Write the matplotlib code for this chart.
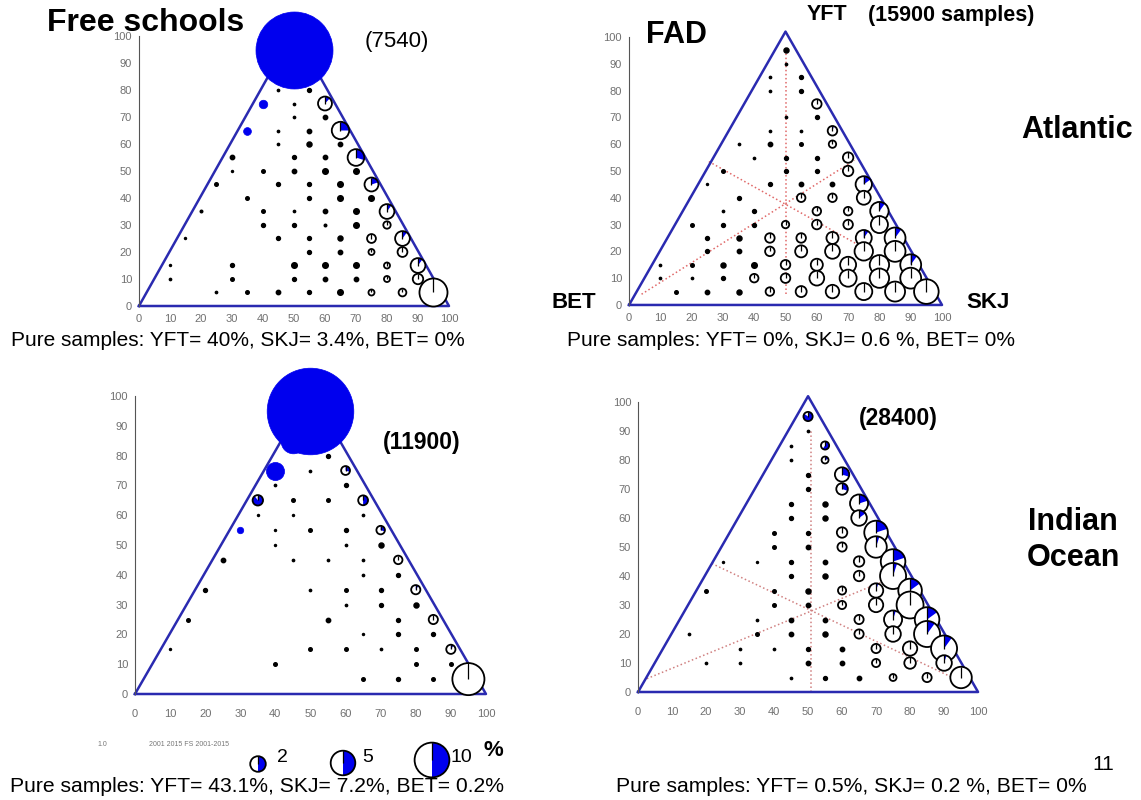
import numpy as np
import matplotlib.pyplot as plt
from matplotlib.path import Path

plt.rcParams['font.family'] = ['Liberation Sans', 'DejaVu Sans']

W, H = 1141, 800
BLUE = '#0000ee'
NAVY = '#2a2ab0'

# Each bubble: grid position (x, y), size as % of samples, blue share of the pie

# Atlantic, free schools (7540)
fs_atl_x = [50,
            45, 55,
            40, 50, 60,
            50, 60,
            35, 45, 55, 65,
            45, 55, 65,
            30, 50, 60, 70,
            30, 40, 50, 60, 70,
            25, 45, 55, 65, 75,
            35, 55, 65, 75,
            20, 40, 50, 60, 70, 80,
            40, 50, 60, 70, 80,
            15, 45, 55, 65, 75, 85,
            55, 65, 75, 85,
            10, 30, 50, 60, 70, 80, 90,
            10, 30, 50, 60, 70, 80, 90,
            25, 35, 45, 55, 65, 75, 85, 95]
fs_atl_y = [95,
            80, 80,
            75, 75, 75,
            70, 70,
            65, 65, 65, 65,
            60, 60, 60,
            55, 55, 55, 55,
            50, 50, 50, 50, 50,
            45, 45, 45, 45, 45,
            40, 40, 40, 40,
            35, 35, 35, 35, 35, 35,
            30, 30, 30, 30, 30,
            25, 25, 25, 25, 25, 25,
            20, 20, 20, 20,
            15, 15, 15, 15, 15, 15, 15,
            10, 10, 10, 10, 10, 10, 10,
            5, 5, 5, 5, 5, 5, 5, 5]
fs_atl_pct = [49,
              .04, .12,
              .6, .04, 1.6,
              .04, .15,
              .5, .04, .15, 2.5,
              .04, .2, .15,
              .15, .12, .15, 2.3,
              .03, .1, .15, .25, .25,
              .1, .12, .12, .25, 1.6,
              .1, .12, .25, .25,
              .05, .1, .04, .15, .25, 1.8,
              .12, .12, .05, .25, .45,
              .03, .12, .12, .2, .65, 1.8,
              .12, .15, .3, .8,
              .03, .12, .25, .25, .25, .3, 1.8,
              .04, .1, .12, .15, .15, .3, .9,
              .04, .1, .15, .12, .25, .3, .5, 6.5]
fs_atl_blue = [1,
               0, 0,
               1, 0, .12,
               0, 0,
               1, 0, 0, .25,
               0, 0, 0,
               0, 0, 0, .3,
               0, 0, 0, 0, 0,
               0, 0, 0, 0, .2,
               0, 0, 0, 0,
               0, 0, 0, 0, 0, .1,
               0, 0, 0, 0, 0,
               0, 0, 0, 0, 0, .1,
               0, 0, 0, 0,
               0, 0, 0, 0, 0, 0, .1,
               0, 0, 0, 0, 0, 0, 0,
               0, 0, 0, 0, 0, 0, 0, 0]

# Atlantic, FAD (15900)
fad_atl_x = [50, 50,
             45, 55, 45, 55,
             60, 50, 60,
             45, 55, 65,
             35, 45, 55, 65,
             40, 50, 60, 70,
             30, 50, 60, 70,
             25, 45, 55, 65, 75,
             35, 55, 65, 75,
             30, 40, 60, 70, 80,
             20, 30, 40, 50, 60, 70, 80,
             25, 35, 45, 55, 65, 75, 85,
             25, 35, 45, 55, 65, 75, 85,
             10, 20, 30, 40, 50, 60, 70, 80, 90,
             10, 20, 30, 40, 50, 60, 70, 80, 90,
             15, 25, 35, 45, 55, 65, 75, 85, 95]
fad_atl_y = [95, 90,
             85, 85, 80, 80,
             75, 70, 70,
             65, 65, 65,
             60, 60, 60, 60,
             55, 55, 55, 55,
             50, 50, 50, 50,
             45, 45, 45, 45, 45,
             40, 40, 40, 40,
             35, 35, 35, 35, 35,
             30, 30, 30, 30, 30, 30, 30,
             25, 25, 25, 25, 25, 25, 25,
             20, 20, 20, 20, 20, 20, 20,
             15, 15, 15, 15, 15, 15, 15, 15, 15,
             10, 10, 10, 10, 10, 10, 10, 10, 10,
             5, 5, 5, 5, 5, 5, 5, 5, 5]
fad_atl_pct = [.2, .04,
               .04, .12, .04, .12,
               .75, .04, .12,
               .04, .04, .75,
               .04, .15, .1, .45,
               .04, .12, .12, .9,
               .1, .12, .12, .9,
               .03, .12, .15, .15, 2.2,
               .12, .6, .6, 1.6,
               .04, .12, .6, .6, 2.8,
               .1, .12, .12, .45, .75, .75, 2.4,
               .12, .2, .75, .75, 1.2, 2.1, 3.6,
               .12, .15, .75, 1.2, 1.8, 2.8, 3.6,
               .04, .1, .2, .25, .75, 1.2, 2.1, 3.1, 3.6,
               .04, .04, .12, .6, .75, 1.8, 2.4, 3.1, 3.6,
               .1, .15, .2, .6, 1.0, 1.5, 2.4, 3.3, 5]
fad_atl_blue = [0, 0,
                0, 0, 0, 0,
                0, 0, 0,
                0, 0, .05,
                0, 0, 0, 0,
                0, 0, 0, 0,
                0, 0, 0, 0,
                0, 0, 0, 0, .15,
                0, 0, 0, 0,
                0, 0, 0, 0, .1,
                0, 0, 0, 0, 0, 0, 0,
                0, 0, 0, 0, 0, .1, .1,
                0, 0, 0, 0, 0, 0, 0,
                0, 0, 0, 0, 0, 0, 0, 0, .1,
                0, 0, 0, 0, 0, 0, 0, 0, 0,
                0, 0, 0, 0, 0, 0, 0, 0, 0]

# Indian Ocean, free schools (11900)
fs_ind_x = [50, 45, 55,
            40, 50, 60,
            40, 60,
            35, 45, 55, 65,
            35, 45, 65,
            30, 40, 50, 60, 70,
            40, 60, 70,
            25, 45, 55, 65, 75,
            65, 75,
            20, 50, 60, 70, 80,
            60, 70, 80,
            15, 55, 75, 85,
            65, 75, 85,
            10, 50, 60, 70, 80, 90,
            40, 80, 90,
            65, 75, 85, 95]
fs_ind_y = [95, 85, 80,
            75, 75, 75,
            70, 70,
            65, 65, 65, 65,
            60, 60, 60,
            55, 55, 55, 55, 55,
            50, 50, 50,
            45, 45, 45, 45, 45,
            40, 40,
            35, 35, 35, 35, 35,
            30, 30, 30,
            25, 25, 25, 25,
            20, 20, 20,
            15, 15, 15, 15, 15, 15,
            10, 10, 10,
            5, 5, 5, 5]
fs_ind_pct = [62, 5, .12,
              2.7, .04, .65,
              .04, .12,
              .9, .1, .1, .8,
              .03, .03, .04,
              .35, .03, .1, .12, .6,
              .03, .04, .2,
              .15, .04, .04, .04, .6,
              .04, .12,
              .12, .04, .1, .12, .7,
              .04, .12, .2,
              .1, .15, .12, .7,
              .03, .12, .12,
              .03, .1, .1, .04, .1, .7,
              .1, .1, .1,
              .1, .12, .1, 8.5]
fs_ind_blue = [1, 1, 0,
               1, 0, .3,
               0, 0,
               .9, 0, 0, .5,
               0, 0, 0,
               1, 0, 0, 0, .3,
               0, 0, 0,
               0, 0, 0, 0, 0,
               0, 0,
               0, 0, 0, 0, .1,
               0, 0, 0,
               0, 0, 0, 0,
               0, 0, 0,
               0, 0, 0, 0, 0, .1,
               0, 0, 0,
               0, 0, 0, 0]

# Indian Ocean, FAD (28400)
fad_ind_x = [50, 50,
             45, 55, 45, 55,
             50, 60, 50, 60,
             45, 55, 65, 45, 55, 65,
             40, 50, 60, 70,
             40, 50, 60, 70,
             25, 35, 45, 55, 65, 75,
             45, 55, 65, 75,
             20, 40, 50, 60, 70, 80,
             40, 50, 60, 70, 80,
             35, 45, 55, 65, 75, 85,
             15, 35, 45, 55, 65, 75, 85,
             30, 40, 50, 60, 70, 80, 90,
             20, 30, 50, 60, 70, 80, 90,
             45, 55, 65, 75, 85, 95]
fad_ind_y = [95, 90,
             85, 85, 80, 80,
             75, 75, 70, 70,
             65, 65, 65, 60, 60, 60,
             55, 55, 55, 55,
             50, 50, 50, 50,
             45, 45, 45, 45, 45, 45,
             40, 40, 40, 40,
             35, 35, 35, 35, 35, 35,
             30, 30, 30, 30, 30,
             25, 25, 25, 25, 25, 25,
             20, 20, 20, 20, 20, 20, 20,
             15, 15, 15, 15, 15, 15, 15,
             10, 10, 10, 10, 10, 10, 10,
             5, 5, 5, 5, 5, 5]
fad_ind_pct = [.7, .04,
               .04, .55, .04, .4,
               .12, 1.7, .12, 1.1,
               .12, .2, 2.7, .12, .2, 2.0,
               .1, .12, .9, 4.6,
               .1, .15, .7, 3.8,
               .03, .03, .12, .15, .9, 5,
               .12, .2, .9, 5.6,
               .1, .1, .2, .55, 1.7, 4.6,
               .1, .15, .55, 1.7, 6,
               .04, .15, .15, .7, 2.7, 5,
               .04, .1, .15, .2, .7, 2.0, 5.6,
               .04, .04, .12, .15, .7, 1.7, 5.6,
               .04, .04, .15, .15, .55, 1.1, 2.0,
               .04, .12, .15, .4, .7, 3.8]
fad_ind_blue = [.85, 0,
                0, .6, 0, .2,
                0, .3, 0, .3,
                0, 0, .2, 0, 0, .15,
                0, 0, 0, .2,
                0, 0, 0, .05,
                0, 0, 0, 0, 0, .2,
                0, 0, 0, .05,
                0, 0, 0, 0, .05, .15,
                0, 0, 0, 0, 0,
                0, 0, 0, 0, .05, .15,
                0, 0, 0, 0, 0, 0, .1,
                0, 0, 0, 0, 0, 0, .1,
                0, 0, 0, 0, 0, 0, .05,
                0, 0, 0, 0, 0, 0]

# reference lines through the FAD triangles (x pair, y pair)
fad_atl_lines_x = [[50, 50], [4, 72], [25.5, 77]]
fad_atl_lines_y = [[4, 95], [4, 54], [53.5, 20]]
fad_ind_lines_x = [[51, 51], [2.6, 71.4], [21.7, 93]]
fad_ind_lines_y = [[0, 90], [4.6, 37.8], [44.3, 4.7]]

# legend keys (% of samples)
legend_pct = [2, 5, 10]

tri_x = [0, 50, 100, 0]
tri_y = [0, 102, 0, 0]

STICK = Path([(0, 0), (0, 1)])


def wedge(frac):
    t = np.linspace(np.pi / 2, np.pi / 2 - 2 * np.pi * frac, 40)
    verts = np.vstack([[0, 0], np.column_stack([np.cos(t), np.sin(t)]), [0, 0]])
    return Path(verts, closed=True)


def area(pct):
    # diameter ~ 11 px * sqrt(%), scatter wants points^2
    return (11 * np.sqrt(pct) * 0.72) ** 2


def bubbles(ax, xs, ys, pcts, blues):
    kw = dict(clip_on=False, zorder=3)
    for x, y, p, b in zip(xs, ys, pcts, blues):
        s = area(p)
        if b >= 0.99:
            ax.scatter(x, y, s=s, color=BLUE, edgecolors=BLUE, linewidths=0.5, **kw)
        elif p < 0.3:
            ax.scatter(x, y, s=s, facecolors='black', edgecolors='black', linewidths=1.1, **kw)
        else:
            ax.scatter(x, y, s=s, facecolors='white', edgecolors='none', **kw)
            if b > 0:
                ax.scatter(x, y, s=s, marker=wedge(b), facecolors=BLUE, edgecolors='none', **kw)
            ax.scatter(x, y, s=s, marker=STICK, facecolors='none', edgecolors='black',
                       linewidths=0.9, **kw)
            ax.scatter(x, y, s=s, facecolors='none', edgecolors='black', linewidths=1.3, **kw)


def panel(rect, xpad):
    ax = fig.add_axes(rect)
    ax.set_xlim(0, 100)
    ax.set_ylim(0, 100)
    for side in ['top', 'right', 'bottom']:
        ax.spines[side].set_visible(False)
    ax.spines['left'].set_color('#555555')
    ax.spines['left'].set_linewidth(0.8)
    ax.set_xticks(range(0, 101, 10))
    ax.set_yticks(range(0, 101, 10))
    ax.tick_params(length=0, labelsize=8, labelcolor='#707070')
    ax.tick_params(axis='x', pad=xpad)
    ax.tick_params(axis='y', pad=5)
    ax.patch.set_alpha(0)
    ax.plot(tri_x, tri_y, color=NAVY, lw=1.8, clip_on=False, zorder=2)
    return ax


fig = plt.figure(figsize=(W / 100, H / 100), dpi=100)

ax1 = panel([0.1218, 0.6175, 0.2717, 0.3375], 6)
ax2 = panel([0.5513, 0.6188, 0.2743, 0.335], 6)
ax3 = panel([0.1183, 0.1325, 0.3076, 0.3725], 11)
ax4 = panel([0.5592, 0.1350, 0.2980, 0.3625], 11)

for lx, ly in zip(fad_atl_lines_x, fad_atl_lines_y):
    ax2.plot(lx, ly, color='#e06868', lw=1.1, ls=':', zorder=1)
for lx, ly in zip(fad_ind_lines_x, fad_ind_lines_y):
    ax4.plot(lx, ly, color='#d08080', lw=1.1, ls=':', zorder=1)

bubbles(ax1, fs_atl_x, fs_atl_y, fs_atl_pct, fs_atl_blue)
bubbles(ax2, fad_atl_x, fad_atl_y, fad_atl_pct, fad_atl_blue)
bubbles(ax3, fs_ind_x, fs_ind_y, fs_ind_pct, fs_ind_blue)
bubbles(ax4, fad_ind_x, fad_ind_y, fad_ind_pct, fad_ind_blue)

# overlay in pixel coordinates for labels and legend
ov = fig.add_axes([0, 0, 1, 1], zorder=10)
ov.set_xlim(0, W)
ov.set_ylim(H, 0)
ov.axis('off')

ov.text(146, 23, 'Free schools', fontsize=23, fontweight='bold', ha='center', va='center')
ov.text(397, 42, '(7540)', fontsize=16, ha='center', va='center')
ov.text(676, 35, 'FAD', fontsize=22, fontweight='bold', ha='center', va='center')
ov.text(807, 15, 'YFT', fontsize=15.5, fontweight='bold', ha='left', va='center')
ov.text(868, 15, '(15900 samples)', fontsize=15.5, fontweight='bold', ha='left', va='center')
ov.text(596, 302, 'BET', fontsize=16, fontweight='bold', ha='right', va='center')
ov.text(966, 302, 'SKJ', fontsize=16, fontweight='bold', ha='left', va='center')
ov.text(1077, 130, 'Atlantic', fontsize=22, fontweight='bold', ha='center', va='center')
ov.text(1073, 540, 'Indian\nOcean', fontsize=22, fontweight='bold', ha='center', va='center',
        linespacing=1.25)
ov.text(422, 442, '(11900)', fontsize=16.5, fontweight='bold', ha='center', va='center')
ov.text(898, 418, '(28400)', fontsize=16.5, fontweight='bold', ha='center', va='center')

ov.text(11, 341, 'Pure samples: YFT= 40%, SKJ= 3.4%, BET= 0%', fontsize=15, va='center')
ov.text(567, 341, 'Pure samples: YFT= 0%, SKJ= 0.6 %, BET= 0%', fontsize=15, va='center')
ov.text(10, 787, 'Pure samples: YFT= 43.1%, SKJ= 7.2%, BET= 0.2%', fontsize=15.2, va='center')
ov.text(616, 787, 'Pure samples: YFT= 0.5%, SKJ= 0.2 %, BET= 0%', fontsize=15.2, va='center')

ov.text(1103, 765, '11', fontsize=15, ha='center', va='center')
ov.text(102, 745, '1.0', fontsize=5, color='#777777', ha='center', va='center')
ov.text(149, 745, '2001 2015 FS 2001-2015', fontsize=5, color='#777777', va='center')

# legend
bubbles(ov, [258, 343, 432], [764, 763, 760], legend_pct, [0.5] * len(legend_pct))
ov.text(277, 758, '2', fontsize=14, va='center')
ov.text(362, 757, '5', fontsize=14, va='center')
ov.text(451, 758, '10', fontsize=14, va='center')
ov.text(483, 751, '%', fontsize=16, fontweight='bold', va='center')

fig.savefig('out.png', dpi=100)
